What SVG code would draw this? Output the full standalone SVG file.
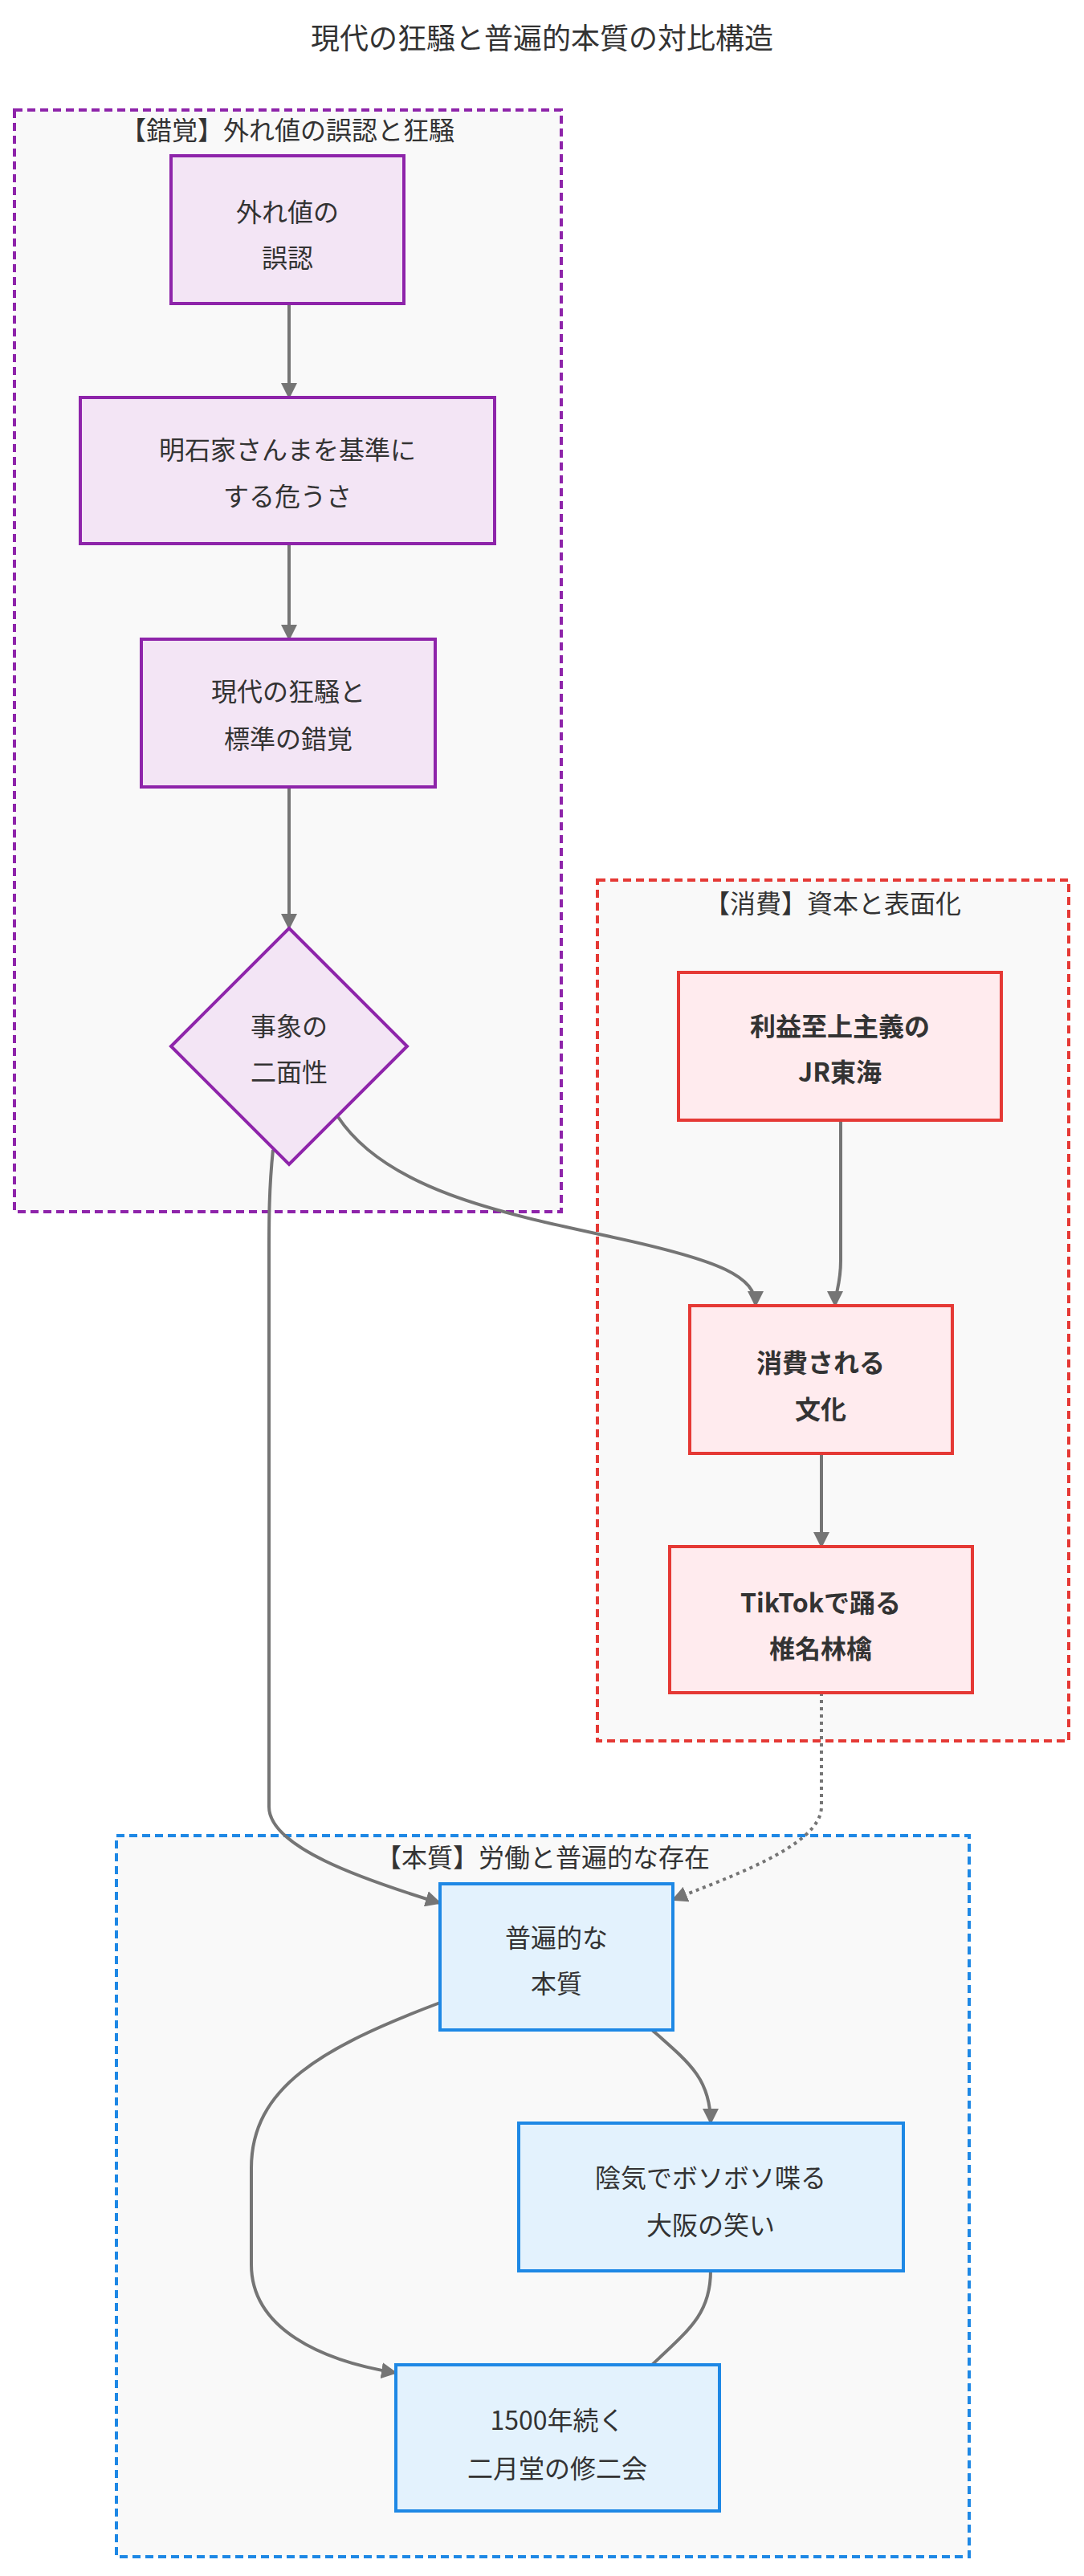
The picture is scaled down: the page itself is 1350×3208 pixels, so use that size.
<svg xmlns="http://www.w3.org/2000/svg" width="1350" height="3208" viewBox="0 0 1350 3208">
<style>
text{font-family:"Noto Sans CJK JP","Noto Sans",sans-serif;fill:#333;text-anchor:middle;dominant-baseline:central;font-size:32px}
.cl{fill:#f9f9f9;stroke-width:4;stroke-dasharray:10 6}
.p{fill:#f3e5f5;stroke:#8e24aa;stroke-width:4}
.r{fill:#ffebee;stroke:#e53935;stroke-width:4}
.b{fill:#e3f2fd;stroke:#1e88e5;stroke-width:4}
.bold{font-weight:bold}
.e{fill:none;stroke:#757575;stroke-width:4}
</style>
<defs><marker id="ah" viewBox="0 0 10 10" refX="9" refY="5" markerWidth="5" markerHeight="5" orient="auto"><path d="M0,0L10,5L0,10z" fill="#757575"/></marker></defs>
<rect width="1350" height="3208" fill="#fff"/>
<text x="675" y="45" style="font-size:36px">現代の狂騒と普遍的本質の対比構造</text>
<g id="cluster1"><rect class="cl" x="18" y="137" width="681" height="1372" stroke="#8e24aa"/><text x="358" y="160">【錯覚】外れ値の誤認と狂騒</text></g>
<g id="cluster2"><rect class="cl" x="744" y="1096" width="587" height="1072" stroke="#e53935"/><text x="1037" y="1123">【消費】資本と表面化</text></g>
<g id="cluster3"><rect class="cl" x="145" y="2286" width="1062" height="898" stroke="#1e88e5"/><text x="676" y="2311">【本質】労働と普遍的な存在</text></g>
<g id="edges">
<path class="e" d="M360,378V495" marker-end="url(#ah)"/>
<path class="e" d="M360,677V796" marker-end="url(#ah)"/>
<path class="e" d="M360,980V1156" marker-end="url(#ah)"/>
<path class="e" d="M421,1391C480,1480 620,1510 760,1540C900,1570 941,1590 941,1626" marker-end="url(#ah)"/>
<path class="e" d="M340,1432C335,1480 335,1520 335,1560L335,2250C335,2300 450,2340 548,2370" marker-end="url(#ah)"/>
<path class="e" d="M1047,1395L1047,1570C1047,1600 1040,1610 1040,1626" marker-end="url(#ah)"/>
<path class="e" d="M1023,1810V1926" marker-end="url(#ah)"/>
<path class="e" d="M1023,2108L1023,2250C1023,2300 900,2340 838,2366" stroke-dasharray="4 5" marker-end="url(#ah)"/>
<path class="e" d="M812,2528C860,2570 885,2590 885,2644" marker-end="url(#ah)"/>
<path class="e" d="M548,2494C400,2550 313,2600 313,2700L313,2820C313,2900 400,2940 493,2955" marker-end="url(#ah)"/>
<path class="e" d="M885,2828C885,2880 860,2900 812,2945"/>
</g>
<g id="A"><rect class="p" x="213" y="194" width="290" height="184"/><text x="358" y="262">外れ値の</text><text x="358" y="319">誤認</text></g>
<g id="B"><rect class="p" x="100" y="495" width="516" height="182"/><text x="358" y="558">明石家さんまを基準に</text><text x="358" y="616">する危うさ</text></g>
<g id="C"><rect class="p" x="176" y="796" width="366" height="184"/><text x="359" y="859">現代の狂騒と</text><text x="359" y="918">標準の錯覚</text></g>
<g id="D"><polygon class="p" points="360,1156 507,1303 360,1450 213,1303"/><text x="360" y="1276">事象の</text><text x="360" y="1333">二面性</text></g>
<g id="E"><rect class="r" x="845" y="1211" width="402" height="184"/><text class="bold" x="1046" y="1276">利益至上主義の</text><text class="bold" x="1046" y="1333">JR東海</text></g>
<g id="F"><rect class="r" x="859" y="1626" width="327" height="184"/><text class="bold" x="1022" y="1695">消費される</text><text class="bold" x="1022" y="1753">文化</text></g>
<g id="G"><rect class="r" x="834" y="1926" width="377" height="182"/><text class="bold" x="1022" y="1994">TikTokで踊る</text><text class="bold" x="1022" y="2051">椎名林檎</text></g>
<g id="H"><rect class="b" x="548" y="2346" width="290" height="182"/><text x="693" y="2411">普遍的な</text><text x="693" y="2468">本質</text></g>
<g id="I"><rect class="b" x="646" y="2644" width="479" height="184"/><text x="885" y="2710">陰気でボソボソ喋る</text><text x="885" y="2769">大阪の笑い</text></g>
<g id="J"><rect class="b" x="493" y="2945" width="403" height="182"/><text x="694" y="3012">1500年続く</text><text x="694" y="3072">二月堂の修二会</text></g>
</svg>
